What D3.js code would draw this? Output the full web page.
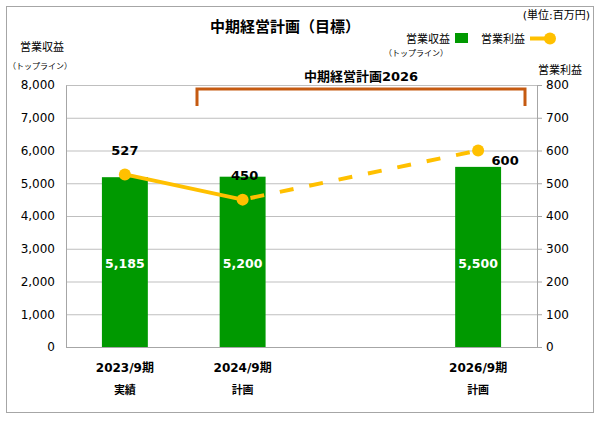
<!DOCTYPE html>
<html>
<head>
<meta charset="utf-8">
<script src="https://cdn.jsdelivr.net/npm/d3@7"></script>
<style>
  body { margin: 0; background: #fff; }
  svg text { font-family: "DejaVu Sans", "Noto Sans CJK JP", sans-serif; fill: #000; }
</style>
</head>
<body>
<div id="chart"></div>
<script>
// --- data ---
const periods = ["2023/9期", "2024/9期", "2025/9期", "2026/9期"];
const periodLabels = ["2023/9期", "2024/9期", "", "2026/9期"];
const periodNotes = ["実績", "計画", "", "計画"];
const revenue = [5185, 5200, null, 5500];
const profit = [527, 450, null, 600];
const leftTicks = [0, 1000, 2000, 3000, 4000, 5000, 6000, 7000, 8000];
const rightTicks = [0, 100, 200, 300, 400, 500, 600, 700, 800];

const width = 600, height = 421;
const margin = { top: 85, right: 63, bottom: 74, left: 66 };

const svg = d3.select("#chart").append("svg")
  .attr("width", width).attr("height", height);

// outer frame
svg.append("rect")
  .attr("x", 6.5).attr("y", 6.5).attr("width", 587).attr("height", 406)
  .attr("fill", "none").attr("stroke", "#a6a6a6");

// --- scales ---
const x = d3.scaleBand().domain(periods)
  .range([margin.left, width - margin.right])
  .paddingInner(0.61).paddingOuter(0.305);
const yL = d3.scaleLinear().domain([0, 8000]).range([height - margin.bottom, margin.top]);
const yR = d3.scaleLinear().domain([0, 800]).range([height - margin.bottom, margin.top]);
const cx = p => x(p) + x.bandwidth() / 2;

// gridlines
svg.append("g").selectAll("line").data(leftTicks).join("line")
  .attr("x1", margin.left).attr("x2", width - margin.right)
  .attr("y1", d => yL(d) + 0.5).attr("y2", d => yL(d) + 0.5)
  .attr("stroke", "#bfbfbf");

// axes
const axL = svg.append("g").attr("transform", `translate(${margin.left},0)`)
  .call(d3.axisLeft(yL).tickValues(leftTicks).tickSize(0).tickPadding(11).tickFormat(d3.format(",")));
const axR = svg.append("g").attr("transform", `translate(${width - margin.right},0)`)
  .call(d3.axisRight(yR).tickValues(rightTicks).tickSize(5).tickPadding(4));
[axL, axR].forEach(a => {
  a.select(".domain").attr("stroke", "#a6a6a6");
  a.selectAll(".tick line").attr("stroke", "#a6a6a6");
  a.selectAll("text").attr("font-size", 12);
});
svg.append("line")
  .attr("x1", margin.left).attr("x2", width - margin.right)
  .attr("y1", yL(0) + 0.5).attr("y2", yL(0) + 0.5).attr("stroke", "#a6a6a6");

// --- bars ---
const barData = periods.map((p, i) => ({ p, v: revenue[i] })).filter(d => d.v != null);
svg.append("g").selectAll("rect").data(barData).join("rect")
  .attr("x", d => x(d.p)).attr("width", x.bandwidth())
  .attr("y", d => yL(d.v)).attr("height", d => yL(0) - yL(d.v))
  .attr("fill", "#009900");
svg.append("g").selectAll("text").data(barData).join("text")
  .attr("x", d => cx(d.p)).attr("y", 268)
  .attr("text-anchor", "middle").attr("font-size", 12.5).attr("font-weight", "bold")
  .style("fill", "#fff").text(d => d3.format(",")(d.v));

// --- profit line ---
const pts = periods.map((p, i) => ({ p, v: profit[i] })).filter(d => d.v != null);
const line = d3.line().x(d => cx(d.p)).y(d => yR(d.v));
svg.append("path").datum(pts.slice(0, 2)).attr("d", line)
  .attr("fill", "none").attr("stroke", "#ffc000").attr("stroke-width", 4);
svg.append("path").datum(pts.slice(1)).attr("d", line)
  .attr("fill", "none").attr("stroke", "#ffc000").attr("stroke-width", 4)
  .attr("stroke-dasharray", "0 8 14 8");
svg.append("g").selectAll("circle").data(pts).join("circle")
  .attr("cx", d => cx(d.p)).attr("cy", d => yR(d.v)).attr("r", 6)
  .attr("fill", "#ffc000");
const lblOff = [[0, -19], [2, -20], [27, 14]];
svg.append("g").selectAll("text").data(pts).join("text")
  .attr("x", (d, i) => cx(d.p) + lblOff[i][0]).attr("y", (d, i) => yR(d.v) + lblOff[i][1])
  .attr("text-anchor", "middle").attr("font-size", 13).attr("font-weight", "bold")
  .text(d => d.v);

// --- category labels ---
const xg = svg.append("g");
periods.forEach((p, i) => {
  xg.append("text").attr("x", cx(p)).attr("y", 372).attr("text-anchor", "middle")
    .attr("font-size", 12).attr("font-weight", "bold").text(periodLabels[i]);
  xg.append("text").attr("x", cx(p)).attr("y", 394).attr("text-anchor", "middle")
    .attr("font-size", 11).attr("font-weight", "bold").text(periodNotes[i]);
});

// --- bracket: 中期経営計画2026 ---
const bx0 = 197, bx1 = 525, by = 89;
svg.append("path")
  .attr("d", `M${bx0},${by + 17}V${by}H${bx1}V${by + 17}`)
  .attr("fill", "none").attr("stroke", "#c55a11").attr("stroke-width", 3);
svg.append("text").attr("x", (bx0 + bx1) / 2).attr("y", 81).attr("text-anchor", "middle")
  .attr("font-size", 13).attr("font-weight", "bold").text("中期経営計画2026");

// --- titles ---
svg.append("text").attr("x", 285).attr("y", 32).attr("text-anchor", "middle")
  .attr("font-size", 15).attr("font-weight", "bold").text("中期経営計画（目標）");
svg.append("text").attr("x", 590).attr("y", 19).attr("text-anchor", "end")
  .attr("font-size", 11).text("(単位:百万円)");

svg.append("text").attr("x", 42).attr("y", 51).attr("text-anchor", "middle")
  .attr("font-size", 11).text("営業収益");
svg.append("text").attr("x", 40).attr("y", 69).attr("text-anchor", "middle")
  .attr("font-size", 8).text("（トップライン）");
svg.append("text").attr("x", 560).attr("y", 74).attr("text-anchor", "middle")
  .attr("font-size", 11).text("営業利益");

// --- legend ---
svg.append("text").attr("x", 450).attr("y", 43).attr("text-anchor", "end")
  .attr("font-size", 11).text("営業収益");
svg.append("text").attr("x", 416).attr("y", 56).attr("text-anchor", "middle")
  .attr("font-size", 8).text("（トップライン）");
svg.append("rect").attr("x", 455).attr("y", 33).attr("width", 13).attr("height", 10)
  .attr("fill", "#009900");
svg.append("text").attr("x", 525).attr("y", 43).attr("text-anchor", "end")
  .attr("font-size", 11).text("営業利益");
svg.append("line").attr("x1", 530).attr("x2", 549).attr("y1", 38.5).attr("y2", 38.5)
  .attr("stroke", "#ffc000").attr("stroke-width", 4);
svg.append("circle").attr("cx", 550).attr("cy", 38.5).attr("r", 6).attr("fill", "#ffc000");
</script>
</body>
</html>
